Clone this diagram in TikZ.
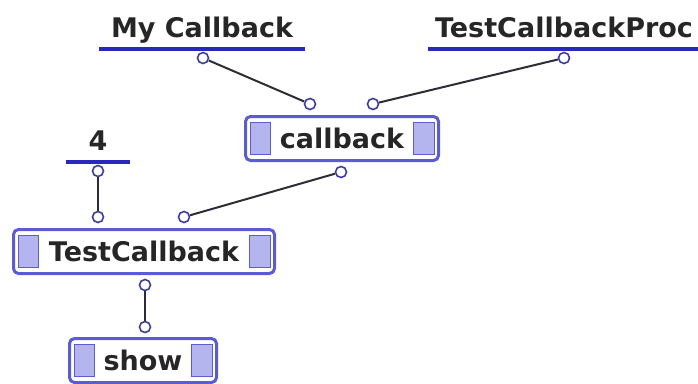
\documentclass[tikz,border=0pt]{standalone}
\usepackage{fontspec}
\setmainfont{DejaVu Sans}
\usetikzlibrary{calc}
\definecolor{boxblue}{RGB}{92,92,210}
\definecolor{barblue}{RGB}{40,40,190}
\definecolor{padblue}{RGB}{180,180,238}
\definecolor{portblue}{RGB}{60,60,160}
\definecolor{wire}{RGB}{45,45,55}

\begin{document}
\begin{tikzpicture}[x=1pt,y=-1pt,
		lbl/.style={font=\bfseries\fontsize{27}{30}\selectfont,text=black!85},
		method/.style={lbl,draw=boxblue,line width=3pt,rounded corners=5pt,
			minimum height=44pt,minimum width=#1,inner sep=0pt,
			path picture={
				\filldraw[padblue,draw=boxblue,line width=1pt,sharp corners]
					($(path picture bounding box.south west)+(4.5pt,6pt)$) rectangle
					($(path picture bounding box.north west)+(25pt,-6pt)$);
				\filldraw[padblue,draw=boxblue,line width=1pt,sharp corners]
					($(path picture bounding box.south east)+(-4.5pt,6pt)$) rectangle
					($(path picture bounding box.north east)+(-25pt,-6pt)$);
			}},
		const/.style={lbl,anchor=base,minimum width=#1,inner xsep=0pt},
		bar/.style={draw=barblue,line width=3.5pt},
		port/.style={circle,draw=portblue,fill=white,line width=1.6pt,minimum size=11pt,inner sep=0pt},
		wire/.style={draw=wire,line width=2pt}]
	\useasboundingbox (0,0) rectangle (698,383);

	% constants on top
	\node[const=205pt] (mc) at (202,37) {My Callback};
	\node[const=272pt] (proc) at (564,37) {TestCallbackProc};
	\node[const=64pt] (four) at (98,150) {4};
	\foreach \c in {mc,proc,four}
		\draw[bar] ($(\c.base west)+(0pt,-12pt)$) -- ($(\c.base east)+(0pt,-12pt)$);
	\node[port] (mc-out) at ($(mc.base)+(1pt,-21pt)$) {};
	\node[port] (proc-out) at ($(proc.base)+(0pt,-21pt)$) {};
	\node[port] (four-out) at ($(four.base)+(0pt,-21pt)$) {};

	% methods
	\node[method=193pt] (cb) at (342,138.5) {callback};
	\node[method=261pt] (tcb) at (144,251.5) {TestCallback};
	\node[method=147pt] (show) at (143,360.5) {show};

	\node[port] (cb-in1) at ($(cb.north)+(-32pt,11pt)$) {};
	\node[port] (cb-in2) at ($(cb.north)+(31pt,11pt)$) {};
	\node[port] (cb-out) at ($(cb.south)+(-1pt,-10pt)$) {};
	\node[port] (tcb-in1) at ($(tcb.north)+(-46pt,11pt)$) {};
	\node[port] (tcb-in2) at ($(tcb.north)+(40pt,11pt)$) {};
	\node[port] (tcb-out) at ($(tcb.south)+(1pt,-10pt)$) {};
	\node[port] (show-in) at ($(show.north)+(2pt,10pt)$) {};

	% wires
	\draw[wire] (mc-out) -- (cb-in1);
	\draw[wire] (proc-out) -- (cb-in2);
	\draw[wire] (cb-out) -- (tcb-in2);
	\draw[wire] (four-out) -- (tcb-in1);
	\draw[wire] (tcb-out) -- (show-in);
\end{tikzpicture}
\end{document}
